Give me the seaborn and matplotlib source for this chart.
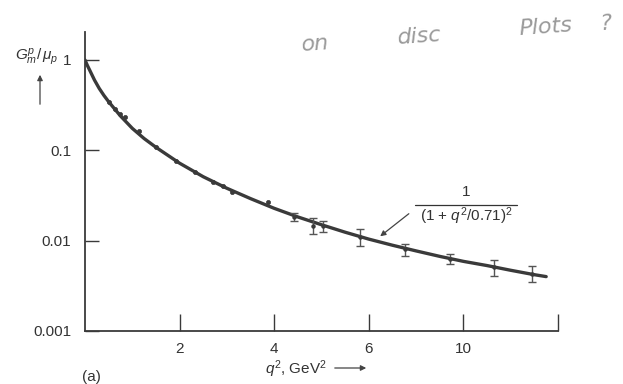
import numpy as np
import pandas as pd
import matplotlib
matplotlib.use("Agg")
import matplotlib.pyplot as plt
import seaborn as sns
from matplotlib.lines import Line2D

# ---- data ----
dot_q2 = [0.51, 0.63, 0.75, 0.84, 1.14, 1.51, 1.93, 2.33, 2.70, 2.91, 3.10, 3.87]
dot_g = [0.346, 0.285, 0.253, 0.236, 0.164, 0.110, 0.077, 0.0569, 0.0445, 0.0405, 0.0342, 0.0265]

err_q2 = [4.42, 4.81, 5.03, 5.81, 6.76, 7.72, 8.65, 9.45]
err_g = [0.0183, 0.0147, 0.0145, 0.0110, 0.0081, 0.00628, 0.00512, 0.00428]
err_lo = [0.0163, 0.0119, 0.01235, 0.00881, 0.00671, 0.00557, 0.00403, 0.00346]
err_hi = [0.0202, 0.0178, 0.0163, 0.01346, 0.00927, 0.00713, 0.00606, 0.00530]

curve_q2 = [0.0, 0.05, 0.1, 0.2, 0.3, 0.4, 0.5, 0.75, 1.0, 1.25, 1.5, 2.0, 2.5, 3.0, 3.5, 4.0,
            4.5, 5.0, 5.5, 6.0, 6.5, 7.0, 7.5, 8.0, 8.5, 9.0, 9.5, 9.75]
curve_g = [1.0, 0.87, 0.77, 0.60, 0.485, 0.405, 0.345, 0.240, 0.175, 0.135, 0.108, 0.072, 0.051,
           0.038, 0.0292, 0.0228, 0.0183, 0.0150, 0.0124, 0.0104, 0.0089, 0.0077, 0.0067,
           0.0059, 0.0053, 0.0047, 0.0042, 0.0040]

x_ticks = [2, 4, 6, 8, 10]
x_tick_labels = ["2", "4", "6", "10", ""]
y_ticks = [1, 0.1, 0.01, 0.001]
y_tick_labels = ["1", "0.1", "0.01", "0.001"]

W, H = 623, 384
sns.set_theme(style="white")
plt.rcParams['font.family'] = ['Liberation Sans', 'DejaVu Sans']
plt.rcParams['mathtext.fontset'] = 'custom'
plt.rcParams['mathtext.rm'] = 'Liberation Sans'
plt.rcParams['mathtext.it'] = 'Liberation Sans:italic'

ink = "#3a3a3a"
fig = plt.figure(figsize=(W / 100, H / 100), dpi=100)
fig.patch.set_facecolor("white")

def fx(px):
    return px / W

def fy(py):
    return 1 - py / H

ax = fig.add_axes([fx(85), fy(331), fx(558) - fx(85), fy(32) - fy(331)])
ax.set_facecolor("white")

curve_df = pd.DataFrame({"q2": curve_q2, "g": curve_g})
sns.lineplot(data=curve_df, x="q2", y="g", ax=ax, color=ink, lw=2.4, zorder=3)

dot_df = pd.DataFrame({"q2": dot_q2, "g": dot_g})
sns.scatterplot(data=dot_df, x="q2", y="g", ax=ax, color=ink, s=9, marker="o",
                edgecolor=ink, linewidth=0.5, zorder=4)

g = np.array(err_g)
yerr = np.vstack([g - np.array(err_lo), np.array(err_hi) - g])
ax.errorbar(err_q2, err_g, yerr=yerr, fmt="o", ms=2.2, color=ink, ecolor="#555555",
            elinewidth=1.0, capsize=3.2, capthick=1.0, zorder=4)

ax.set_yscale("log")
ax.set_xlim(0, 10)
ax.set_ylim(0.001, 2.04)
ax.set_xticks(x_ticks)
ax.set_xticklabels(x_tick_labels)
ax.set_yticks(y_ticks)
ax.set_yticklabels(y_tick_labels)
ax.yaxis.set_minor_locator(matplotlib.ticker.NullLocator())
ax.xaxis.set_minor_locator(matplotlib.ticker.NullLocator())
ax.tick_params(axis="x", which="major", bottom=True, top=False, direction="in",
               length=12.5, width=1.0, color=ink, pad=8, labelsize=11,
               labelcolor="#333333")
ax.tick_params(axis="y", which="major", left=True, right=False, direction="in",
               length=10, width=1.0, color=ink, pad=10, labelsize=11,
               labelcolor="#333333")
ax.set_xlabel("")
ax.set_ylabel("")
for side in ["top", "right"]:
    ax.spines[side].set_visible(False)
for side in ["left", "bottom"]:
    ax.spines[side].set_color(ink)
    ax.spines[side].set_linewidth(1.3)

# y label with arrow
fig.text(fx(37), fy(57), r"$G_m^p/\,\mu_p$", ha="center", va="center",
         fontsize=11, color="#333333")
fig.add_artist(matplotlib.patches.FancyArrowPatch((fx(40), fy(107)), (fx(40), fy(72)),
               transform=fig.transFigure, arrowstyle="-|>", mutation_scale=8,
               color="#444444", lw=0.9))

# x label with arrow
fig.text(fx(296), fy(369), r"$q^2$, GeV$^2$", ha="center", va="center",
         fontsize=11, color="#333333")
fig.add_artist(matplotlib.patches.FancyArrowPatch((fx(332), fy(368)), (fx(369), fy(368)),
               transform=fig.transFigure, arrowstyle="-|>", mutation_scale=8,
               color="#444444", lw=0.9))

fig.text(fx(91), fy(377), "(a)", ha="center", va="center", fontsize=11, color="#333333")

# formula annotation
fig.text(fx(466), fy(192), "1", ha="center", va="center", fontsize=11, color="#333333")
fig.add_artist(Line2D([fx(415), fx(517)], [fy(204.5), fy(204.5)],
                      transform=fig.transFigure, color="#333333", lw=0.9))
fig.text(fx(466), fy(216), r"(1 + $q^2$/0.71)$^2$", ha="center", va="center",
         fontsize=11, color="#333333")
fig.add_artist(matplotlib.patches.FancyArrowPatch((fx(411), fy(212)), (fx(378), fy(238)),
               transform=fig.transFigure, arrowstyle="-|>", mutation_scale=8,
               color="#444444", lw=0.9))

# handwritten note
hw = dict(fontsize=16, color="#9a9a9a", style="italic", family="DejaVu Sans",
          fontweight="light", ha="center", va="center")
fig.text(fx(315), fy(44), "on", rotation=4, **hw)
fig.text(fx(420), fy(36), "disc", rotation=4, **hw)
fig.text(fx(546), fy(27), "Plots", rotation=4, **hw)
fig.text(fx(606), fy(24), "?", rotation=4, **hw)

fig.savefig("out.png", dpi=100, facecolor="white")
